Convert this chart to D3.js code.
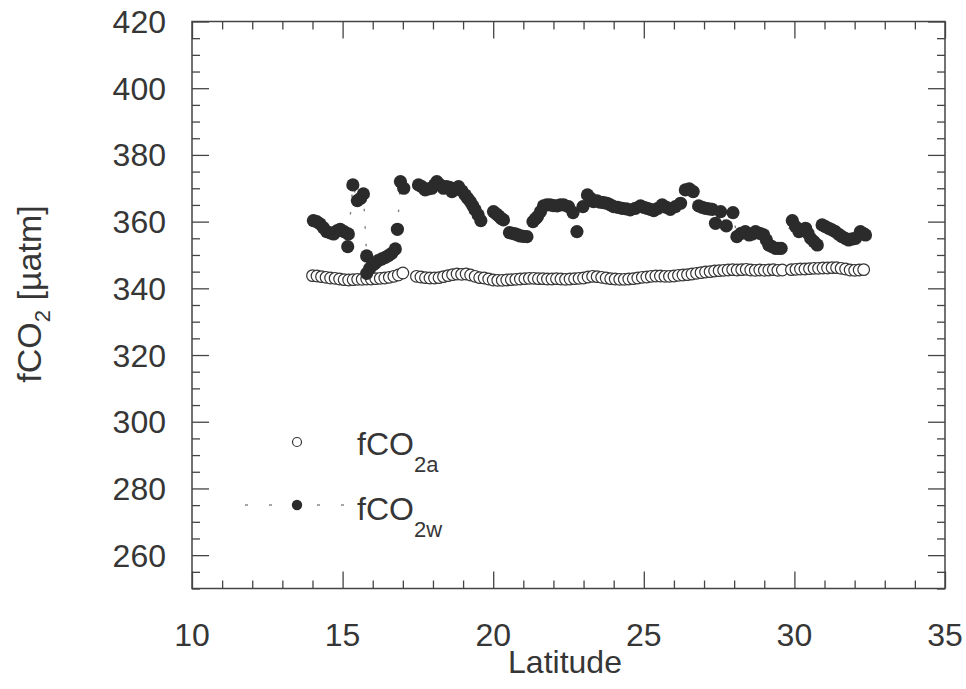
<!DOCTYPE html>
<html>
<head>
<meta charset="utf-8">
<script src="https://cdn.jsdelivr.net/npm/d3@7"></script>
<style>
  body { margin: 0; background: #fff; }
  svg { display: block; }
  text { font-family: "Liberation Sans", Arial, sans-serif; fill: #363636; }
</style>
</head>
<body>
<svg id="chart" width="966" height="689"></svg>
<script>
// fCO2 air (open circles)
const latAir = [14.00, 14.15, 14.30, 14.45, 14.60, 14.75, 14.90, 15.05, 15.20, 15.35, 15.50, 15.65, 15.80, 15.95, 16.10, 16.25, 16.40, 16.55, 16.70, 16.85, 17.00,
  17.45, 17.60, 17.75, 17.90, 18.05, 18.20, 18.35, 18.50, 18.65, 18.80, 18.95, 19.10, 19.25, 19.40, 19.55, 19.70, 19.85, 20.00, 20.15, 20.30,
  20.45, 20.60, 20.75, 20.90, 21.05, 21.20, 21.35, 21.50, 21.65, 21.80, 21.95, 22.10, 22.25, 22.40, 22.55, 22.70, 22.85, 23.00, 23.15, 23.30,
  23.45, 23.60, 23.75, 23.90, 24.05, 24.20, 24.35, 24.50, 24.65, 24.80, 24.95, 25.10, 25.25, 25.40, 25.55, 25.70, 25.85, 26.00, 26.15, 26.30,
  26.45, 26.60, 26.75, 26.90, 27.05, 27.20, 27.35, 27.50, 27.65, 27.80, 27.95, 28.10, 28.25, 28.40, 28.55, 28.70, 28.85, 29.00, 29.15, 29.30,
  29.45, 29.60, 29.90, 30.05, 30.20, 30.35, 30.50, 30.65, 30.80, 30.95, 31.10, 31.25, 31.40, 31.55, 31.70, 31.85, 32.00, 32.15, 32.30];
const co2Air = [343.8, 343.7, 343.5, 343.3, 343.1, 343.0, 342.8, 342.6, 342.5, 342.6, 342.7, 342.7, 342.8, 342.8, 342.9, 343.0, 343.1, 343.3, 343.6, 344.0, 344.6,
  343.6, 343.4, 343.2, 343.1, 343.1, 343.2, 343.5, 343.8, 344.1, 344.3, 344.2, 344.3, 344.0, 343.6, 343.2, 343.1, 342.8, 342.5, 342.4, 342.4,
  342.5, 342.6, 342.7, 342.8, 342.9, 343.0, 343.0, 342.9, 342.9, 342.8, 342.8, 342.9, 342.8, 342.7, 342.8, 342.9, 343.0, 343.1, 343.4, 343.6,
  343.5, 343.3, 343.1, 342.9, 342.8, 342.7, 342.7, 342.8, 342.9, 343.1, 343.3, 343.4, 343.6, 343.7, 343.7, 343.6, 343.6, 343.7, 343.9, 344.0,
  344.1, 344.3, 344.5, 344.7, 344.9, 345.0, 345.2, 345.3, 345.4, 345.5, 345.6, 345.5, 345.6, 345.7, 345.5, 345.4, 345.5, 345.4, 345.5, 345.6,
  345.4, 345.5, 345.6, 345.7, 345.8, 345.8, 345.9, 346.0, 346.0, 346.1, 346.1, 346.2, 346.2, 346.0, 345.8, 345.5, 345.4, 345.5, 345.6];

// fCO2 water (filled circles, dotted line, in cruise order)
const latWater = [14.03, 14.14, 14.25, 14.36, 14.47, 14.59, 14.70, 14.81, 14.92, 15.05, 15.19, 15.17, 15.34, 15.49, 15.60, 15.69, 15.80, 15.80,
  15.90, 16.00, 16.08, 16.18, 16.30, 16.42, 16.52, 16.63, 16.75, 16.82, 16.92, 17.03,
  17.52, 17.63, 17.74, 17.85, 17.96, 18.05, 18.13, 18.24, 18.35, 18.45, 18.55, 18.63, 18.75, 18.85, 18.96, 19.07, 19.15, 19.24, 19.32, 19.40,
  19.50, 19.59, 20.01, 20.10, 20.18, 20.26, 20.34, 20.54, 20.64, 20.73, 20.82, 20.90, 21.00, 21.12, 21.32, 21.40, 21.47, 21.57, 21.67, 21.78,
  21.89, 22.00, 22.12, 22.23, 22.34, 22.50, 22.65, 22.78, 22.98, 23.13, 23.23, 23.33, 23.45, 23.56, 23.67, 23.78, 23.89, 24.00, 24.14, 24.28,
  24.42, 24.55, 24.72, 24.89, 25.00, 25.11, 25.22, 25.33, 25.47, 25.61, 25.75, 25.88, 26.05, 26.22, 26.38, 26.51, 26.64, 26.82, 26.94, 27.05,
  27.16, 27.27, 27.38, 27.55, 27.74, 27.96, 28.09, 28.23, 28.37, 28.50, 28.60, 28.71, 28.85, 28.98, 29.07, 29.15, 29.26, 29.37, 29.47, 29.56,
  29.93, 30.04, 30.15, 30.26, 30.37, 30.45, 30.54, 30.65, 30.76, 30.92, 31.03, 31.14, 31.25, 31.36, 31.47, 31.58, 31.69, 31.80, 31.92, 32.03,
  32.19, 32.28, 32.36];
const co2Water = [360.3, 360.0, 359.3, 358.2, 357.0, 356.6, 356.3, 357.2, 357.7, 357.0, 356.3, 352.5, 371.0, 366.3, 367.0, 368.3, 349.7, 344.5,
  346.0, 347.0, 347.5, 348.3, 348.8, 349.3, 349.8, 350.5, 351.8, 357.7, 372.0, 370.0,
  371.0, 370.5, 369.5, 369.8, 370.0, 371.0, 372.0, 371.0, 370.0, 370.5, 370.3, 369.0, 369.8, 370.5, 369.2, 368.0, 367.0, 366.0, 364.8, 363.5,
  362.0, 360.3, 363.0, 362.3, 361.7, 361.0, 360.5, 356.7, 356.5, 356.3, 356.0, 355.7, 355.6, 355.5, 360.0, 360.8, 361.5, 363.0, 364.7, 365.0,
  365.0, 364.8, 364.7, 365.0, 365.0, 364.5, 362.7, 357.0, 364.5, 368.0, 367.0, 366.0, 366.2, 365.8, 365.7, 365.5, 365.0, 364.5, 364.3, 364.0,
  363.8, 363.5, 364.0, 364.7, 364.3, 364.0, 363.7, 363.3, 364.0, 365.0, 364.3, 363.7, 364.5, 365.5, 369.5, 369.8, 369.0, 364.7, 364.3, 364.0,
  363.8, 363.7, 359.5, 363.0, 358.7, 362.7, 355.5, 356.5, 357.0, 356.0, 356.3, 357.0, 356.5, 356.0, 354.5, 353.0, 352.5, 352.0, 352.0, 352.0,
  360.3, 358.5, 357.0, 357.5, 358.0, 356.5, 355.0, 354.0, 353.0, 359.0, 358.5, 358.0, 357.5, 357.0, 356.2, 355.5, 355.0, 354.5, 354.8, 355.0,
  357.0, 356.5, 356.0];

const xTicks = [10, 15, 20, 25, 30, 35];
const yTicks = [260, 280, 300, 320, 340, 360, 380, 400, 420];

const svg = d3.select('#chart');
const frame = { left: 192, right: 945, top: 21.5, bottom: 588.5 };

const x = d3.scaleLinear().domain([10, 35]).range([frame.left, frame.right]);
const y = d3.scaleLinear().domain([250, 420]).range([frame.bottom, frame.top]);

const ink = '#444';

// minor + major ticks on all four sides, pointing inward
const xMinor = d3.range(10, 36, 1).filter((d) => d % 5 !== 0);
const yMinor = d3.range(250, 421, 5).filter((d) => d % 20 !== 0);

const drawAxis = (axis, tx, ty) => {
  const g = svg.append('g').attr('transform', `translate(${tx},${ty})`).call(axis);
  g.select('.domain').remove();
  g.selectAll('line').attr('stroke', ink).attr('stroke-width', 1.3);
  return g;
};

drawAxis(d3.axisBottom(x).tickValues(xMinor).tickSize(-8).tickFormat(''), 0, frame.bottom);
drawAxis(d3.axisTop(x).tickValues(xMinor).tickSize(-8).tickFormat(''), 0, frame.top);
drawAxis(d3.axisBottom(x).tickValues(xTicks).tickSize(-17).tickFormat(''), 0, frame.bottom);
drawAxis(d3.axisTop(x).tickValues(xTicks).tickSize(-17).tickFormat(''), 0, frame.top);
drawAxis(d3.axisLeft(y).tickValues(yMinor).tickSize(-8).tickFormat(''), frame.left, 0);
drawAxis(d3.axisRight(y).tickValues(yMinor).tickSize(-8).tickFormat(''), frame.right, 0);
drawAxis(d3.axisLeft(y).tickValues(yTicks).tickSize(-17).tickFormat(''), frame.left, 0);
drawAxis(d3.axisRight(y).tickValues(yTicks).tickSize(-17).tickFormat(''), frame.right, 0);

// tick labels
svg.append('g').selectAll('text').data(xTicks).join('text')
  .attr('x', (d) => x(d))
  .attr('y', frame.bottom + 57)
  .attr('text-anchor', 'middle')
  .style('font-size', '32px')
  .text((d) => d);

svg.append('g').selectAll('text').data(yTicks).join('text')
  .attr('x', 166)
  .attr('y', (d) => y(d) + 11.5)
  .attr('text-anchor', 'end')
  .style('font-size', '32px')
  .text((d) => d);

// frame
svg.append('rect')
  .attr('x', frame.left).attr('y', frame.top)
  .attr('width', frame.right - frame.left).attr('height', frame.bottom - frame.top)
  .attr('fill', 'none').attr('stroke', ink).attr('stroke-width', 1.5);

// axis titles
svg.append('text')
  .attr('x', 565).attr('y', 673)
  .attr('text-anchor', 'middle')
  .style('font-size', '32px')
  .text('Latitude');

const yTitle = svg.append('text')
  .attr('transform', 'translate(41,294) rotate(-90)')
  .attr('text-anchor', 'middle')
  .style('font-size', '34px');
yTitle.append('tspan').text('fCO');
yTitle.append('tspan').attr('dy', 9).style('font-size', '22px').text('2');
yTitle.append('tspan').attr('dy', -9).text(' [µatm]');

// air series
svg.append('g').selectAll('circle').data(latAir).join('circle')
  .attr('cx', (d) => x(d))
  .attr('cy', (d, i) => y(co2Air[i]))
  .attr('r', 5.8)
  .attr('fill', '#fff')
  .attr('stroke', '#333')
  .attr('stroke-width', 1.2);

// water series: dotted connecting line + filled dots
const waterPts = latWater.map((d, i) => [d, co2Water[i]]);
svg.append('path')
  .datum(waterPts)
  .attr('d', d3.line().x((d) => x(d[0])).y((d) => y(d[1])))
  .attr('fill', 'none')
  .attr('stroke', '#777')
  .attr('stroke-width', 1.3)
  .attr('stroke-dasharray', '2.5,15');

svg.append('g').selectAll('circle').data(waterPts).join('circle')
  .attr('cx', (d) => x(d[0]))
  .attr('cy', (d) => y(d[1]))
  .attr('r', 6.6)
  .attr('fill', '#2b2b2b');

// legend
const leg = svg.append('g');
leg.append('circle').attr('cx', 297).attr('cy', 442).attr('r', 4.5)
  .attr('fill', '#fff').attr('stroke', '#333').attr('stroke-width', 1.2);
leg.append('line').attr('x1', 245).attr('x2', 345).attr('y1', 505).attr('y2', 505)
  .attr('stroke', '#888').attr('stroke-width', 1.4).attr('stroke-dasharray', '3,21');
leg.append('circle').attr('cx', 297).attr('cy', 505).attr('r', 5.2).attr('fill', '#2b2b2b');

const legText = (ty, sub) => {
  const t = leg.append('text').attr('x', 357).attr('y', ty).style('font-size', '32px');
  t.append('tspan').text('fCO');
  t.append('tspan').attr('dy', 17).style('font-size', '22px').text(sub);
};
legText(455, '2a');
legText(520, '2w');
</script>
</body>
</html>
